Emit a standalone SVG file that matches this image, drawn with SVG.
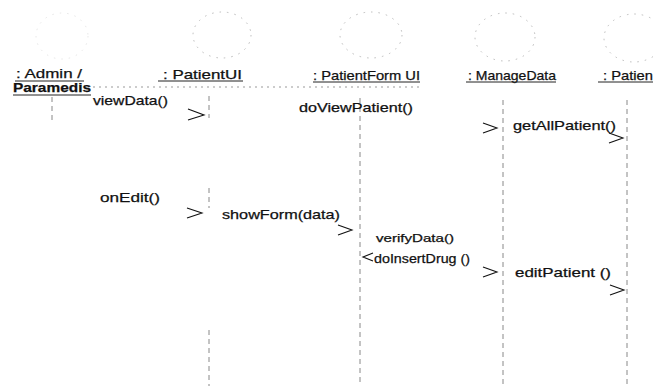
<svg xmlns="http://www.w3.org/2000/svg" width="653" height="386" viewBox="0 0 653 386">
<style>
.t{font-family:"Liberation Sans",Arial,sans-serif;font-size:13px;fill:#111;stroke:#111;stroke-width:0.25;}
.s{font-size:11px;}
.b{font-weight:bold;}
.ul{stroke:#222;stroke-width:1;}
.dot{stroke:#999;stroke-width:1;stroke-dasharray:2 4;}
.life{stroke:#888;stroke-width:1;stroke-dasharray:5 4;fill:none;}
.circ{fill:none;stroke:#bbb;stroke-width:1;stroke-dasharray:1.5 6;}
.arr{fill:none;stroke:#111;stroke-width:1.1;}
</style>
<rect width="653" height="386" fill="#fff"/>
<g id="admin">
<ellipse class="circ" cx="62" cy="36" rx="26" ry="23" opacity="0.35"/>
<text class="t" x="16" y="78" textLength="66" lengthAdjust="spacingAndGlyphs">: Admin /</text>
<line class="ul" x1="15" y1="81" x2="84" y2="81"/>
<text class="t b" x="13" y="92" textLength="78" lengthAdjust="spacingAndGlyphs">Paramedis</text>
<line class="ul" x1="13" y1="95" x2="91" y2="95"/>
</g>
<g id="patientui">
<ellipse class="circ" cx="222" cy="35" rx="29" ry="23"/>
<text class="t" x="163" y="79" textLength="79" lengthAdjust="spacingAndGlyphs">: PatientUI</text>
<line class="ul" x1="158" y1="81" x2="243" y2="81"/>
</g>
<g id="patientformui">
<ellipse class="circ" cx="371" cy="35" rx="31" ry="23"/>
<text class="t" x="313" y="80" textLength="107" lengthAdjust="spacingAndGlyphs">: PatientForm UI</text>
<line class="ul" x1="313" y1="82" x2="420" y2="82"/>
</g>
<g id="managedata">
<ellipse class="circ" cx="505" cy="37" rx="30" ry="24"/>
<text class="t" x="468" y="80" textLength="88" lengthAdjust="spacingAndGlyphs">: ManageData</text>
<line class="ul" x1="466" y1="82" x2="556" y2="82"/>
</g>
<g id="patient">
<ellipse class="circ" cx="634" cy="38" rx="30" ry="24"/>
<text class="t" x="603" y="80" textLength="50" lengthAdjust="spacingAndGlyphs">: Patien</text>
<line class="ul" x1="598" y1="82" x2="653" y2="82"/>
</g>
<g id="connectors">
<line class="dot" x1="93" y1="87" x2="420" y2="87"/>
<line class="life" x1="52" y1="97" x2="52" y2="124"/>
<line class="life" x1="209" y1="96" x2="209" y2="118"/>
<line class="life" x1="209" y1="188" x2="209" y2="208"/>
<line class="life" x1="209" y1="330" x2="209" y2="386"/>
<line class="life" x1="360" y1="98" x2="360" y2="386"/>
<line class="life" x1="503" y1="100" x2="503" y2="386"/>
<line class="life" x1="627" y1="100" x2="627" y2="386"/>
<polyline class="arr" points="188,109 204,115 188,120"/>
<polyline class="arr" points="483,123 497,128 483,133"/>
<polyline class="arr" points="609,133 623,138 609,143"/>
<polyline class="arr" points="187,208 202,213 187,218"/>
<polyline class="arr" points="338,225 352,230 338,235"/>
<polyline class="arr" points="373,253 363,257 373,261"/>
<polyline class="arr" points="483,267 497,272 483,277"/>
<polyline class="arr" points="610,285 624,290 610,295"/>
<text class="t" x="93" y="105" textLength="75" lengthAdjust="spacingAndGlyphs">viewData()</text>
<text class="t" x="299" y="112" textLength="114" lengthAdjust="spacingAndGlyphs">doViewPatient()</text>
<text class="t" x="513" y="130" textLength="103" lengthAdjust="spacingAndGlyphs">getAllPatient()</text>
<text class="t" x="100" y="202" textLength="60" lengthAdjust="spacingAndGlyphs">onEdit()</text>
<text class="t" x="222" y="219" textLength="118" lengthAdjust="spacingAndGlyphs">showForm(data)</text>
<text class="t s" x="376" y="242" textLength="78" lengthAdjust="spacingAndGlyphs">verifyData()</text>
<text class="t" x="374" y="263" textLength="96" lengthAdjust="spacingAndGlyphs">doInsertDrug ()</text>
<text class="t" x="515" y="277" textLength="96" lengthAdjust="spacingAndGlyphs">editPatient ()</text>
</g>
</svg>
